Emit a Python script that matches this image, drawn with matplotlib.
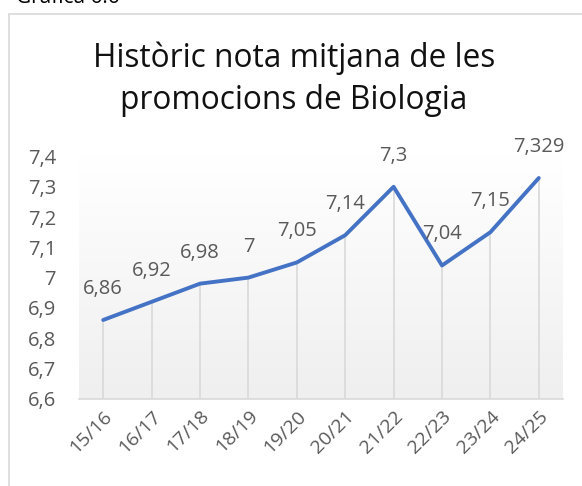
import numpy as np
import matplotlib
matplotlib.use('Agg')
import matplotlib.pyplot as plt
from matplotlib.colors import LinearSegmentedColormap
from matplotlib.patches import Rectangle

# cursos i nota mitjana de cada promoció
cursos = ['15/16', '16/17', '17/18', '18/19', '19/20',
          '20/21', '21/22', '22/23', '23/24', '24/25']
notes = [6.86, 6.92, 6.98, 7.0, 7.05, 7.14, 7.3, 7.04, 7.15, 7.329]
etiquetes = ['6,86', '6,92', '6,98', '7', '7,05', '7,14', '7,3', '7,04', '7,15', '7,329']
yticks = [6.6, 6.7, 6.8, 6.9, 7.0, 7.1, 7.2, 7.3, 7.4]
ytick_labels = ['6,6', '6,7', '6,8', '6,9', '7', '7,1', '7,2', '7,3', '7,4']

plt.rcParams['font.family'] = ['Open Sans', 'DejaVu Sans']
gris = '#595959'

W, H = 582, 486
fig = plt.figure(figsize=(W / 100, H / 100), dpi=100)
fig.patch.set_facecolor('white')

# marc del gràfic
fig.patches.append(Rectangle((8.5 / W, -0.1), 1.0, (H - 13.5) / H + 0.1,
                             transform=fig.transFigure, fill=False,
                             edgecolor='#d9d9d9', linewidth=1.2))
fig.text(16 / W, (H - 3) / H, 'Gràfica 6.6', fontsize=15, color='black',
         ha='left', va='baseline')

fig.text(294 / W, (H - 67) / H, 'Històric nota mitjana de les',
         fontsize=22.8, color='#111111', ha='center', va='baseline')
fig.text(294 / W, (H - 109) / H, 'promocions de Biologia',
         fontsize=22.8, color='#111111', ha='center', va='baseline')

ax = fig.add_axes([79 / W, (H - 398.7) / H, 484 / W, (398.7 - 156.5) / H])
x = np.arange(len(cursos))
ax.set_xlim(-0.5, len(cursos) - 0.5)
ax.set_ylim(6.6, 7.4)

# fons en degradat
grad = LinearSegmentedColormap.from_list('fons', ['#efefef', '#ffffff'])
ax.imshow(np.linspace(0, 1, 256).reshape(-1, 1), cmap=grad, aspect='auto',
          extent=[-0.5, len(cursos) - 0.5, 6.6, 7.4], origin='lower', zorder=0)

ax.vlines(x, 6.6, notes, color='#d9d9d9', linewidth=1.2, zorder=1)
ax.plot(x, notes, color='#4472c4', linewidth=2.8, solid_capstyle='round', zorder=3)

for xi, yi, lab in zip(x, notes, etiquetes):
    ax.annotate(lab, (xi, yi), xytext=(0, 31), textcoords='offset pixels',
                ha='center', va='center', fontsize=14.5, color=gris,
                annotation_clip=False, zorder=4)

for s in ['top', 'right', 'left']:
    ax.spines[s].set_visible(False)
ax.spines['bottom'].set_color('#d9d9d9')
ax.spines['bottom'].set_linewidth(1.2)

ax.set_yticks(yticks)
ax.set_yticklabels(ytick_labels, fontsize=14.5, color=gris)
ax.set_xticks(x)
ax.set_xticklabels(cursos, fontsize=14, color=gris, rotation=45,
                   ha='right', rotation_mode='anchor')
ax.tick_params(axis='both', length=0)
ax.tick_params(axis='y', pad=16.5)
ax.tick_params(axis='x', pad=6)

fig.savefig('out.png', dpi=100)
